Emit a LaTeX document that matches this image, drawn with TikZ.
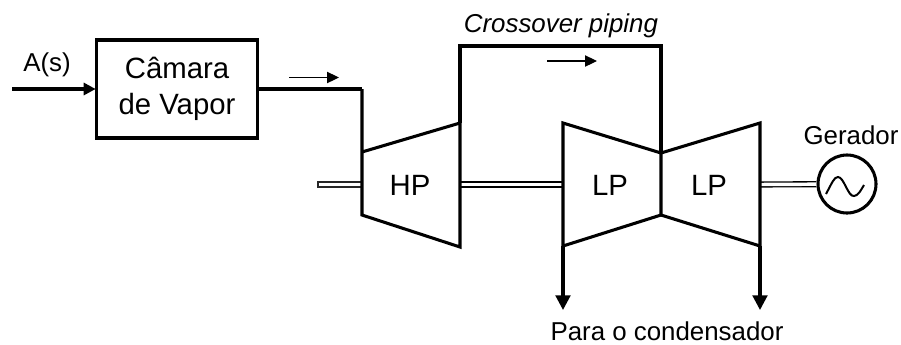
\documentclass[tikz,border=0pt]{standalone}
\usepackage{fontspec}
\setmainfont{Liberation Sans}
\usetikzlibrary{arrows.meta,positioning}

\begin{document}
\begin{tikzpicture}[
  x=0.75pt, y=-0.75pt,
  chamber/.style={rectangle, draw=black, line width=2.3pt, minimum width=120.7pt,
                  minimum height=73.5pt, align=center,
                  font=\fontsize{22}{27}\selectfont},
  pipe/.style={line width=2.3pt, line join=miter},
  flowin/.style={pipe, -{Triangle[length=9pt, width=9pt]}, shorten >=-0.5pt},
  flowout/.style={pipe, -{Triangle[length=11pt, width=11pt]}},
  flowmark/.style={line width=0.8pt, -{Triangle[length=9pt, width=8.5pt]}},
  shaft/.style={draw=black, line width=1pt, double=white, double distance=2.6pt},
  stage/.style={font=\fontsize{22}{27}\selectfont},
  note/.style={font=\fontsize{19.4}{24}\selectfont},
  generator/.style={circle, draw=black, line width=2.3pt, minimum size=43.5pt}
]
\useasboundingbox (0,0) rectangle (901,344);

\node[chamber] (cam) at (177,89) {Câmara\\de Vapor};
\node[generator] (gen) at (847,184) {};
\coordinate (src) at (12,89);
\coordinate (elbow) at (362,89);

% turbines
\coordinate (hp1) at (362,152);
\coordinate (hp2) at (460,123);
\coordinate (hp3) at (460,247);
\coordinate (hp4) at (362,215);
\coordinate (lpa1) at (563,123);
\coordinate (lpa2) at (661,153);
\coordinate (lpa3) at (661,215);
\coordinate (lpa4) at (563,246);
\coordinate (lpb2) at (760,123);
\coordinate (lpb3) at (760,246);
\coordinate (xa) at (460,46);
\coordinate (xb) at (661,46);
\coordinate (outa) at (563,310);
\coordinate (outb) at (760,310);

% shafts
\coordinate (stub1) at (318,182);
\coordinate (stub2) at (362,187);
\coordinate (sh1) at (460,184.5);
\coordinate (sh2) at (563,184.5);
\coordinate (sh3) at (760,184.5);
\draw[draw=black!85, line width=0.8pt, fill=white] (stub1) rectangle (stub2);
\draw[shaft] (sh1) -- (sh2);
\draw[shaft] (sh3) -- (gen);

\draw[pipe] (hp1) -- (hp2) -- (hp3) -- (hp4) -- (elbow);
\draw[pipe] (lpa1) -- (lpa2) -- (lpa3) -- (lpa4) -- cycle;
\draw[pipe] (lpa2) -- (lpb2) -- (lpb3) -- (lpa3);
\draw[pipe] (hp2) -- (xa) -- (xb) -- (lpa2);
\draw[pipe] (cam.east |- elbow) -- (elbow);
\draw[flowin] (src) -- (cam.west |- src);
\draw[flowout] (lpa4) -- (outa);
\draw[flowout] (lpb3) -- (outb);

\coordinate (ma) at (289,77.5);
\coordinate (mb) at (339,77.5);
\coordinate (mc) at (547,61);
\coordinate (md) at (597,61);
\draw[flowmark] (ma) -- (mb);
\draw[flowmark] (mc) -- (md);

\draw[line width=1.5pt] (826,194) .. controls (832,183) and (834,177) .. (838,177)
  .. controls (844,177) and (848,197) .. (854,196) .. controls (858,196) and (861,190) .. (864,185);

\node[stage] (hp) at (410,185) {HP};
\node[stage] (lpa) at (610,185) {LP};
\node[stage] (lpb) at (709,185) {LP};
\node[note] (as) at (47,65) {A(s)};
\node[note] (xo) at (561,26) {\itshape Crossover piping};
\node[note] (gertxt) at (851,135) {Gerador};
\node[note] (cond) at (667,331) {Para o condensador};
\end{tikzpicture}
\end{document}
